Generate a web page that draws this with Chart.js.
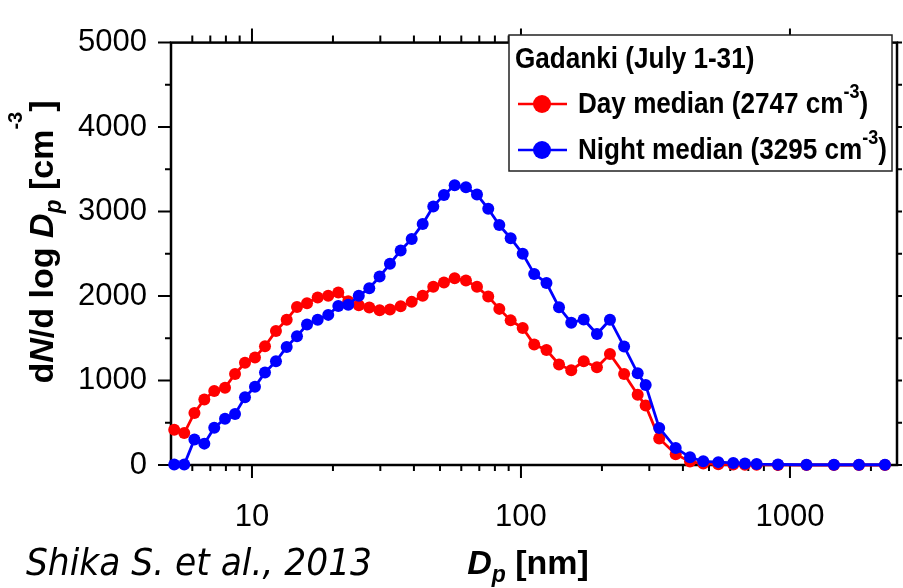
<!DOCTYPE html>
<html>
<head>
<meta charset="utf-8">
<script src="https://cdn.jsdelivr.net/npm/chart.js@4.4.0/dist/chart.umd.min.js"></script>
<style>
  html, body { margin: 0; padding: 0; background: #fff; }
  #wrap { width: 903px; height: 588px; }
</style>
</head>
<body>
<div id="wrap"><canvas id="sizeChart" width="903" height="588"></canvas></div>
<script>
// Particle diameter Dp (nm), shared by both curves
const diameters = [5.14, 5.60, 6.11, 6.65, 7.24, 7.94, 8.65, 9.42, 10.26, 11.18,
    12.28, 13.46, 14.70, 16.02, 17.55, 19.21, 20.94, 22.80, 24.95, 27.30,
    29.82, 32.58, 35.71, 39.24, 43.12, 47.21, 51.73, 56.68, 62.44, 68.63,
    75.57, 83.07, 91.55, 101.5, 112.0, 124.4, 138.5, 153.8, 171.1, 191.6,
    214.2, 241.8, 271.6, 290.8, 326.5, 376.0, 425.0, 476.1, 541.5, 615.5,
    680.3, 752.0, 902.6, 1152, 1457, 1805, 2255];

// dN/dlogDp (cm-3)
const dayMedian = [416, 378, 616, 775, 877, 915, 1077, 1210, 1273, 1406,
    1587, 1720, 1871, 1916, 1984, 2003, 2041, 1939, 1890, 1863,
    1833, 1840, 1879, 1931, 2003, 2109, 2160, 2211, 2183, 2109,
    1995, 1848, 1712, 1621, 1425, 1361, 1190, 1122, 1228, 1156,
    1313, 1077, 831, 703, 314, 128, 40, 17, 8, 5,
    3, 2, 1, 0, 0, 0, 0];

const nightMedian = [5, 5, 303, 253, 442, 548, 604, 802, 926, 1096,
    1228, 1398, 1523, 1663, 1720, 1777, 1882, 1896, 2003, 2092,
    2230, 2381, 2540, 2676, 2854, 3061, 3197, 3311, 3288, 3201,
    3033, 2840, 2684, 2500, 2262, 2154, 1867, 1684, 1723, 1550,
    1720, 1402, 1085, 947, 439, 201, 91, 43, 34, 25,
    19, 11, 6, 3, 3, 3, 3];

const legendTitle = 'Gadanki (July 1-31)';
const seriesNames = ['Day median', 'Night median'];
const seriesTotals = [2747, 3295];

// Axis ticks
const xMajorTicks = [10, 100, 1000];
const xMinorTicks = [6, 7, 8, 9, 20, 30, 40, 50, 60, 70, 80, 90,
    200, 300, 400, 500, 600, 700, 800, 900, 2000];
const yMajorTicks = [0, 1000, 2000, 3000, 4000, 5000];
const yMinorTicks = [500, 1500, 2500, 3500, 4500];

const FONT = '"Liberation Sans", Arial, sans-serif';

function runsWidth(ctx, runs) {
    let w = 0;
    runs.forEach(r => { ctx.font = r.f; w += ctx.measureText(r.t).width; });
    return w;
}

function drawRuns(ctx, runs, x, y) {
    let cx = x;
    runs.forEach(r => {
        ctx.font = r.f;
        ctx.fillText(r.t, cx, y + (r.dy || 0));
        cx += ctx.measureText(r.t).width;
    });
}

// Box and tick marks, drawn under the data
const framePlugin = {
    id: 'frame',
    beforeDatasetsDraw(chart) {
        const { ctx, chartArea: a, scales: { x, y } } = chart;
        ctx.save();
        ctx.strokeStyle = '#000';
        ctx.lineWidth = 2;
        ctx.beginPath();
        xMajorTicks.forEach(v => {
            const px = x.getPixelForValue(v);
            ctx.moveTo(px, a.bottom); ctx.lineTo(px, a.bottom + 13);
            ctx.moveTo(px, a.top); ctx.lineTo(px, a.top - 14);
        });
        xMinorTicks.forEach(v => {
            const px = x.getPixelForValue(v);
            ctx.moveTo(px, a.bottom); ctx.lineTo(px, a.bottom + 6);
            ctx.moveTo(px, a.top); ctx.lineTo(px, a.top - 7);
        });
        yMajorTicks.forEach(v => {
            const py = y.getPixelForValue(v);
            ctx.moveTo(a.left, py); ctx.lineTo(a.left - 13, py);
            ctx.moveTo(a.right, py); ctx.lineTo(a.right + 5, py);
        });
        yMinorTicks.forEach(v => {
            const py = y.getPixelForValue(v);
            ctx.moveTo(a.left, py); ctx.lineTo(a.left - 6, py);
            ctx.moveTo(a.right, py); ctx.lineTo(a.right + 5, py);
        });
        ctx.stroke();
        ctx.lineWidth = 2.5;
        ctx.strokeRect(a.left, a.top, a.right - a.left, a.bottom - a.top);
        ctx.restore();
    }
};

// Axis titles, citation and legend
const textPlugin = {
    id: 'texts',
    afterDraw(chart) {
        const ctx = chart.ctx;
        ctx.save();
        ctx.fillStyle = '#000';
        ctx.textAlign = 'left';
        ctx.textBaseline = 'alphabetic';

        // y axis title
        const yRuns = [
            { t: 'd', f: 'bold 34px ' + FONT },
            { t: 'N', f: 'italic bold 34px ' + FONT },
            { t: '/d log ', f: 'bold 34px ' + FONT },
            { t: 'D', f: 'italic bold 34px ' + FONT },
            { t: 'p', f: 'italic bold 23px ' + FONT, dy: 8 },
            { t: ' [cm', f: 'bold 34px ' + FONT },
            { t: '-3', f: 'bold 20px ' + FONT, dy: -31 },
            { t: ']', f: 'bold 34px ' + FONT }
        ];
        ctx.save();
        ctx.translate(53, 242);
        ctx.rotate(-Math.PI / 2);
        drawRuns(ctx, yRuns, -runsWidth(ctx, yRuns) / 2, 0);
        ctx.restore();

        // x axis title
        const xRuns = [
            { t: 'D', f: 'italic bold 34px ' + FONT },
            { t: 'p', f: 'italic bold 23px ' + FONT, dy: 8 },
            { t: ' [nm]', f: 'bold 34px ' + FONT }
        ];
        drawRuns(ctx, xRuns, 528 - runsWidth(ctx, xRuns) / 2, 574);

        // citation
        ctx.font = 'italic 38px "DejaVu Sans", sans-serif';
        ctx.fillText('Shika S. et al., 2013', 26, 575, 346);

        // legend
        ctx.fillStyle = '#fff';
        ctx.fillRect(509, 35, 383, 136);
        ctx.strokeStyle = '#222';
        ctx.lineWidth = 1.5;
        ctx.strokeRect(509, 35, 383, 136);
        ctx.fillStyle = '#000';
        ctx.save();
        ctx.translate(515, 68);
        ctx.scale(0.9, 1);
        ctx.font = 'bold 29px ' + FONT;
        ctx.fillText(legendTitle, 0, 0);
        ctx.restore();

        chart.data.datasets.forEach((ds, i) => {
            const cy = 104 + i * 46;
            ctx.strokeStyle = ds.borderColor;
            ctx.lineWidth = 2.5;
            ctx.beginPath();
            ctx.moveTo(518, cy); ctx.lineTo(567, cy);
            ctx.stroke();
            ctx.fillStyle = ds.borderColor;
            ctx.beginPath();
            ctx.arc(542, cy, 9, 0, Math.PI * 2);
            ctx.fill();
            ctx.fillStyle = '#000';
            const runs = [
                { t: seriesNames[i] + ' (' + seriesTotals[i] + ' cm', f: 'bold 29px ' + FONT },
                { t: '-3', f: 'bold 20px ' + FONT, dy: -15 },
                { t: ')', f: 'bold 29px ' + FONT }
            ];
            ctx.save();
            ctx.translate(578, cy + 9);
            ctx.scale(0.9, 1);
            drawRuns(ctx, runs, 0, 0);
            ctx.restore();
        });
        ctx.restore();
    }
};

const ctx = document.getElementById('sizeChart');
new Chart(ctx, {
    type: 'line',
    data: {
        datasets: [{
            label: seriesNames[0],
            data: diameters.map((d, i) => ({ x: d, y: dayMedian[i] })),
            borderColor: '#ff0000',
            backgroundColor: '#ff0000',
            pointBackgroundColor: '#ff0000',
            pointBorderWidth: 0,
            pointRadius: 6,
            borderWidth: 2.8,
            tension: 0,
            clip: 10,
            order: 1
        }, {
            label: seriesNames[1],
            data: diameters.map((d, i) => ({ x: d, y: nightMedian[i] })),
            borderColor: '#0000ff',
            backgroundColor: '#0000ff',
            pointBackgroundColor: '#0000ff',
            pointBorderWidth: 0,
            pointRadius: 6,
            borderWidth: 2.8,
            tension: 0,
            clip: 10,
            order: 0
        }]
    },
    options: {
        responsive: false,
        animation: false,
        devicePixelRatio: 1,
        layout: { padding: { top: 24, right: 6, left: 0, bottom: 0 } },
        plugins: {
            legend: { display: false },
            tooltip: { enabled: false }
        },
        scales: {
            x: {
                type: 'logarithmic',
                min: 5,
                max: 2500,
                grid: { display: false, drawTicks: false },
                border: { display: false },
                afterBuildTicks: function (scale) {
                    scale.ticks = xMajorTicks.map(v => ({ value: v }));
                },
                afterFit: function (scale) { scale.height = 123; },
                ticks: {
                    autoSkip: false,
                    maxRotation: 0,
                    padding: 34,
                    color: '#000',
                    font: { family: FONT, size: 31 },
                    callback: function (value) { return String(value); }
                }
            },
            y: {
                min: 0,
                max: 5000,
                grid: { display: false, drawTicks: false },
                border: { display: false },
                afterBuildTicks: function (scale) {
                    scale.ticks = yMajorTicks.map(v => ({ value: v }));
                },
                afterFit: function (scale) { scale.width = 171; },
                ticks: {
                    padding: 24,
                    color: '#000',
                    font: { family: FONT, size: 31 },
                    callback: function (value) { return String(value); }
                }
            }
        }
    },
    plugins: [framePlugin, textPlugin]
});
</script>
</body>
</html>
